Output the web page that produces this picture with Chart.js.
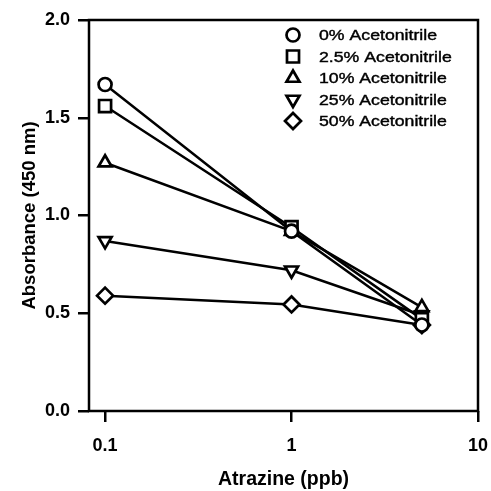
<!DOCTYPE html>
<html>
<head>
<meta charset="utf-8">
<script src="https://cdn.jsdelivr.net/npm/chart.js@4/dist/chart.umd.min.js"></script>
<style>
  html, body { margin: 0; padding: 0; background: #fff; }
  #wrap { width: 491px; height: 491px; }
</style>
</head>
<body>
<div id="wrap"><canvas id="c" width="491" height="491"></canvas></div>
<script>
// Atrazine concentration (ppb) on the x axis
const atrazine = [0.1, 1, 5];

// Absorbance at 450 nm for each acetonitrile level
const acn0   = [1.67, 0.92, 0.44];
const acn2_5 = [1.56, 0.94, 0.47];
const acn10  = [1.27, 0.92, 0.53];
const acn25  = [0.87, 0.72, 0.49];
const acn50  = [0.59, 0.545, 0.44];

const seriesLabels = ['0% Acetonitrile', '2.5% Acetonitrile', '10% Acetonitrile', '25% Acetonitrile', '50% Acetonitrile'];
const xTicks = [0.1, 1, 10];
const yTicks = [0, 0.5, 1.0, 1.5, 2.0];

const markerStyles = [
  { pointStyle: 'circle',   radius: 6.5, rotation: 0 },
  { pointStyle: 'rect',     radius: 8.5, rotation: 0 },
  { pointStyle: 'triangle', radius: 7.5, rotation: 0 },
  { pointStyle: 'triangle', radius: 7.5, rotation: 180 },
  { pointStyle: 'rectRot',  radius: 8,   rotation: 0 }
];

const seriesValues = [acn0, acn2_5, acn10, acn25, acn50];

const FONT = '"Liberation Sans", Arial, sans-serif';

const datasets = seriesValues.map((vals, i) => ({
  label: seriesLabels[i],
  data: vals.map((v, j) => ({ x: atrazine[j], y: v })),
  borderColor: '#000',
  borderWidth: 2.5,
  backgroundColor: '#fff',
  pointStyle: markerStyles[i].pointStyle,
  pointRadius: markerStyles[i].radius,
  pointRotation: markerStyles[i].rotation,
  pointBorderWidth: 2.7,
  pointBorderColor: '#000',
  pointBackgroundColor: '#fff',
  tension: 0
}));

// Closed frame around the plotting area
const framePlugin = {
  id: 'frame',
  afterDatasetsDraw(chart) {
    const { ctx, chartArea: a } = chart;
    ctx.save();
    ctx.strokeStyle = '#000';
    ctx.lineWidth = 2.5;
    ctx.strokeRect(a.left, a.top, a.right - a.left, a.bottom - a.top);
    ctx.restore();
  }
};

// Legend drawn inside the upper-right corner of the plot
const insideLegend = {
  id: 'insideLegend',
  afterDraw(chart) {
    const ctx = chart.ctx;
    const mx = 293, tx = 319, y0 = 35, dy = 21.5;
    ctx.save();
    chart.data.datasets.forEach((ds, i) => {
      const y = y0 + i * dy;
      ctx.strokeStyle = '#000';
      ctx.fillStyle = '#fff';
      ctx.lineWidth = 2.7;
      Chart.helpers.drawPoint(ctx, {
        pointStyle: ds.pointStyle,
        radius: ds.pointRadius,
        rotation: ds.pointRotation,
        borderWidth: 2.7
      }, mx, y);
      ctx.save();
      ctx.translate(tx, y + 1);
      ctx.scale(1.22, 1);
      ctx.font = '14.5px ' + FONT;
      ctx.fillStyle = '#000';
      ctx.strokeStyle = '#000';
      ctx.lineWidth = 0.4;
      ctx.textBaseline = 'middle';
      ctx.textAlign = 'left';
      ctx.fillText(ds.label, 0, 0);
      ctx.strokeText(ds.label, 0, 0);
      ctx.restore();
    });
    ctx.restore();
  }
};

new Chart(document.getElementById('c'), {
  type: 'line',
  data: { datasets },
  options: {
    responsive: false,
    animation: false,
    layout: { padding: { top: 20, right: 13, left: 0, bottom: 0 } },
    plugins: { legend: { display: false }, tooltip: { enabled: false } },
    scales: {
      x: {
        type: 'logarithmic',
        min: 0.082,
        max: 10,
        afterBuildTicks: s => { s.ticks = xTicks.map(v => ({ value: v })); },
        afterFit: s => { s.height = 80; s.paddingLeft = 0; s.paddingRight = 0; },
        border: { display: false },
        grid: { drawOnChartArea: false, drawTicks: true, tickLength: 11, color: '#000', lineWidth: 2.5 },
        ticks: {
          color: '#000',
          font: { family: FONT, size: 18, weight: 'bold' },
          padding: 13,
          maxRotation: 0,
          autoSkip: false,
          callback: v => String(v)
        },
        title: {
          display: true,
          text: 'Atrazine (ppb)',
          color: '#000',
          font: { family: FONT, size: 19.5, weight: 'bold' },
          padding: { top: 0, bottom: 0 }
        }
      },
      y: {
        min: 0,
        max: 2,
        afterBuildTicks: s => { s.ticks = yTicks.map(v => ({ value: v })); },
        afterFit: s => { s.width = 89; s.paddingTop = 0; s.paddingBottom = 0; },
        border: { display: false },
        grid: { drawOnChartArea: false, drawTicks: true, tickLength: 11, color: '#000', lineWidth: 2.5 },
        ticks: {
          color: '#000',
          font: { family: FONT, size: 18, weight: 'bold' },
          padding: 8,
          callback: v => Number(v).toFixed(1)
        },
        title: {
          display: true,
          text: 'Absorbance (450 nm)',
          color: '#000',
          font: { family: FONT, size: 18.5, weight: 'bold' },
          padding: { top: 19, bottom: 0 }
        }
      }
    }
  },
  plugins: [framePlugin, insideLegend]
});
</script>
</body>
</html>
